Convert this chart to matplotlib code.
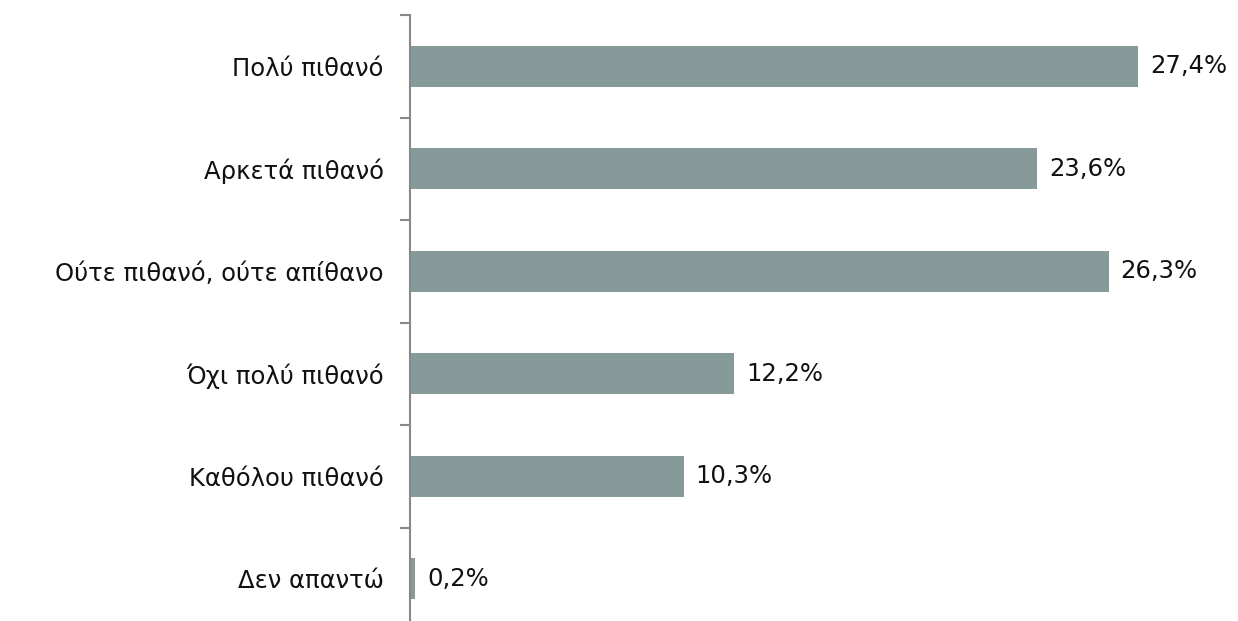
import matplotlib.pyplot as plt
import numpy as np

categories = ['Πολύ πιθανό', 'Αρκετά πιθανό', 'Ούτε πιθανό, ούτε απίθανο',
              'Όχι πολύ πιθανό', 'Καθόλου πιθανό', 'Δεν απαντώ']
values = [27.4, 23.6, 26.3, 12.2, 10.3, 0.2]

plt.rcParams['font.family'] = ['DejaVu Sans']

fig = plt.figure(figsize=(12.38, 6.21), dpi=100)
ax = fig.add_axes([410 / 1238, -9 / 621, 797 / 1238, 615 / 621])

y = np.arange(len(categories))
ax.barh(y, values, height=0.4, color='#879a9a')
ax.set_ylim(len(categories) - 0.5, -0.5)
ax.set_xlim(0, 30)

for yi, v in zip(y, values):
    ax.text(v + 0.45, yi, f'{v:.1f}%'.replace('.', ','), va='center', ha='left',
            fontsize=17.5, color='#111111')

ax.set_yticks(y)
ax.set_yticklabels(categories, fontsize=17.5, color='#111111')
ax.set_yticks(np.arange(len(categories) + 1) - 0.5, minor=True)
ax.tick_params(axis='y', which='major', length=0, pad=19)
ax.tick_params(axis='y', which='minor', length=7.5, width=1.5, color='#888888')
ax.set_xticks([])

for s in ['top', 'right', 'bottom']:
    ax.spines[s].set_visible(False)
ax.spines['left'].set_color('#888888')
ax.spines['left'].set_linewidth(1.5)

fig.savefig('out.png', dpi=100)
